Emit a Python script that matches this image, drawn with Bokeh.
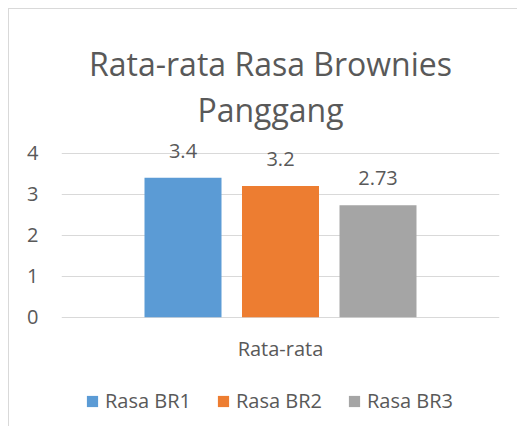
from bokeh.plotting import figure
from bokeh.models import (ColumnDataSource, FactorRange, Range1d, FixedTicker,
                          LabelSet, Label, Legend, LegendItem)
from bokeh.core.properties import value
from bokeh.transform import dodge
from bokeh.embed import file_html
from bokeh.resources import INLINE

# ---- data ----
categories = ["Rata-rata"]
series_names = ["Rasa BR1", "Rasa BR2", "Rasa BR3"]
br1 = [3.4]
br2 = [3.2]
br3 = [2.73]
br1_labels = ["3.4"]
br2_labels = ["3.2"]
br3_labels = ["2.73"]
y_ticks = [0, 1, 2, 3, 4]
title_line1 = "Rata-rata Rasa Brownies"
title_line2 = "Panggang"

colors = ["#5B9BD5", "#ED7D31", "#A5A5A5"]
TEXT = "#595959"
FONT = "Open Sans"

# The plot frame spans the full height so that title, category label and
# legend (drawn inside the frame) are not clipped; gridlines only at 0..4.
p = figure(x_range=FactorRange(*categories, range_padding=0),
           y_range=Range1d(-2.69, 7.505),
           width=509, height=418, output_backend="svg", toolbar_location=None,
           min_border_left=52, min_border_right=19, min_border_top=0,
           min_border_bottom=0)
p.styles = {"margin-left": "8px", "margin-top": "8px",
            "border-left": "1px solid #d9d9d9", "border-top": "1px solid #d9d9d9"}
p.title.visible = False
p.outline_line_color = None
p.background_fill_color = "white"
p.border_fill_color = "white"

offsets = [-0.2226, 0.0, 0.2226]
series = [br1, br2, br3]
labels = [br1_labels, br2_labels, br3_labels]
items = []
for name, vals, labs, off, col in zip(series_names, series, labels, offsets, colors):
    src = ColumnDataSource(dict(cat=categories, v=vals, lab=labs))
    r = p.vbar(x=dodge("cat", off, range=p.x_range), top="v", width=0.1758,
               source=src, fill_color=col, line_color=None)
    items.append(LegendItem(label=name, renderers=[r]))
    ls = LabelSet(x=dodge("cat", off, range=p.x_range), y="v", text="lab",
                  source=src, y_offset=20, text_align="center",
                  text_baseline="alphabetic", text_font=value(FONT),
                  text_font_size=value("20px"), text_color=TEXT)
    p.add_layout(ls)

# category label under the bars
cat_src = ColumnDataSource(dict(cat=categories, y0=[0] * len(categories)))
p.add_layout(LabelSet(x="cat", y="y0", text="cat", source=cat_src, y_offset=-39,
                      text_align="center", text_baseline="alphabetic",
                      text_font=value(FONT), text_font_size=value("20px"),
                      text_color=TEXT))

# axes
p.yaxis.ticker = FixedTicker(ticks=y_ticks)
p.yaxis.axis_line_color = None
p.yaxis.major_tick_line_color = None
p.yaxis.minor_tick_line_color = None
p.yaxis.major_tick_out = 0
p.yaxis.major_label_standoff = 23
p.yaxis.major_label_text_font = FONT
p.yaxis.major_label_text_font_size = "20px"
p.yaxis.major_label_text_color = TEXT
p.xaxis.visible = False

p.xgrid.visible = False
p.ygrid.ticker = FixedTicker(ticks=y_ticks)
p.ygrid.grid_line_color = "#d9d9d9"
p.ygrid.grid_line_width = 1

# chart title, two centred lines
for txt, yy in zip([title_line1, title_line2], [364, 318]):
    p.add_layout(Label(x=209, y=yy, x_units="screen", y_units="screen", text=txt,
                       text_align="center", text_baseline="alphabetic",
                       text_font=FONT, text_font_size="32px", text_color=TEXT))

legend = Legend(items=items, orientation="horizontal", location=(24, 13),
                border_line_color=None, background_fill_alpha=0,
                label_text_font=FONT, label_text_font_size="20px",
                label_text_color=TEXT, glyph_width=14, glyph_height=14,
                label_standoff=6, spacing=25, padding=0, margin=0)
p.add_layout(legend, "center")

open("out.html", "w").write(file_html(p, INLINE))
